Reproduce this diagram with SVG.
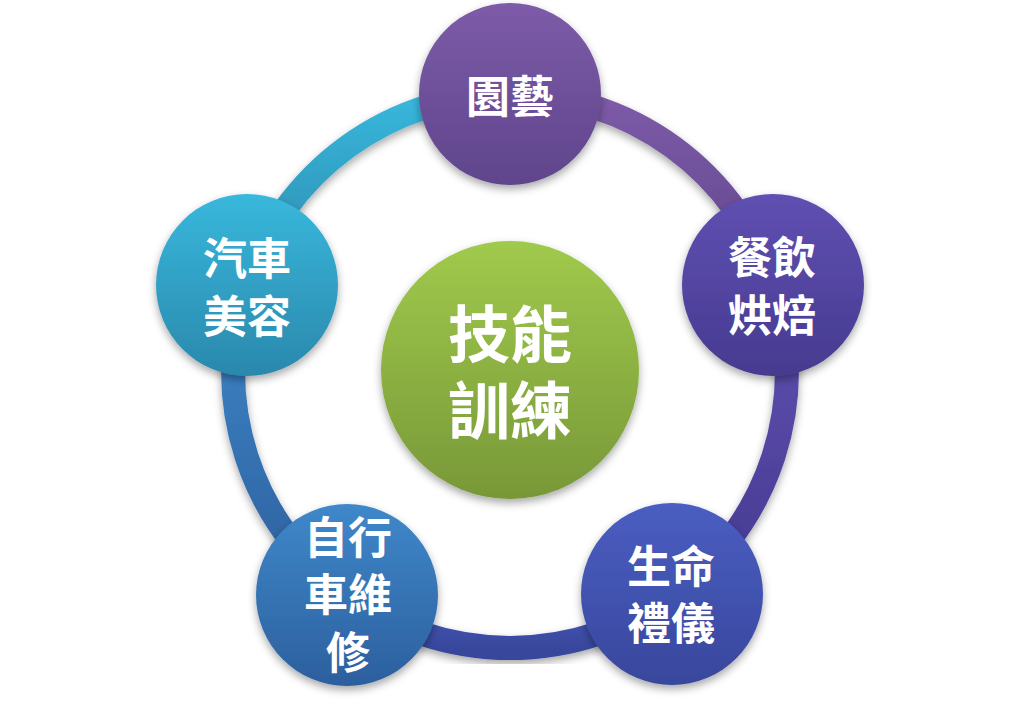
<svg xmlns="http://www.w3.org/2000/svg" width="1020" height="728" viewBox="0 0 1020 728">
<defs>
<linearGradient id="gTop" x1="0" y1="0" x2="0" y2="1"><stop offset="0" stop-color="#7d5ba8"/><stop offset="1" stop-color="#5f458c"/></linearGradient>
<linearGradient id="gRight" x1="0" y1="0" x2="0" y2="1"><stop offset="0" stop-color="#5f50b2"/><stop offset="1" stop-color="#463a90"/></linearGradient>
<linearGradient id="gBR" x1="0" y1="0" x2="0" y2="1"><stop offset="0" stop-color="#4a5ec2"/><stop offset="1" stop-color="#38479c"/></linearGradient>
<linearGradient id="gBL" x1="0" y1="0" x2="0" y2="1"><stop offset="0" stop-color="#3f88ca"/><stop offset="1" stop-color="#2c5f9e"/></linearGradient>
<linearGradient id="gL" x1="0" y1="0" x2="0" y2="1"><stop offset="0" stop-color="#38b8dc"/><stop offset="1" stop-color="#2a88ac"/></linearGradient>
<linearGradient id="gC" x1="0" y1="0" x2="0" y2="1"><stop offset="0" stop-color="#a0ca4c"/><stop offset="1" stop-color="#789838"/></linearGradient>
<filter id="sh" x="-20%" y="-20%" width="140%" height="150%">
<feDropShadow dx="0" dy="4" stdDeviation="4" flood-color="#000" flood-opacity="0.35"/>
</filter>
</defs>
<style>
.arc{fill:none;stroke-width:24;filter:url(#sh)}
.node{filter:url(#sh)}
.t{font-family:"Noto Sans CJK TC","Noto Sans CJK SC",sans-serif;font-weight:700;fill:#fff;text-anchor:middle;dominant-baseline:central;font-size:44px}
.tc{font-size:62px}
</style>
<rect width="1020" height="728" fill="#fff"/>
<g id="connectors">
<path class="arc" stroke="url(#gTop)" d="M510 94 A277 277 0 0 1 773.4 285.4"/>
<path class="arc" stroke="url(#gRight)" d="M773.4 285.4 A277 277 0 0 1 672.8 595.1"/>
<path class="arc" stroke="url(#gBR)" d="M672.8 595.1 A277 277 0 0 1 347.2 595.1"/>
<path class="arc" stroke="url(#gBL)" d="M347.2 595.1 A277 277 0 0 1 246.6 285.4"/>
<path class="arc" stroke="url(#gL)" d="M246.6 285.4 A277 277 0 0 1 510 94"/>
</g>
<g id="center">
<circle class="node" cx="510" cy="370" r="129" fill="url(#gC)"/>
<text class="t tc" x="510" y="331">技能</text>
<text class="t tc" x="510" y="407">訓練</text>
</g>
<g id="n-top">
<circle class="node" cx="510" cy="94" r="91" fill="url(#gTop)"/>
<text class="t" x="510" y="94">園藝</text>
</g>
<g id="n-right">
<circle class="node" cx="773" cy="285" r="91" fill="url(#gRight)"/>
<text class="t" x="772" y="255">餐飲</text>
<text class="t" x="772" y="313">烘焙</text>
</g>
<g id="n-bottomright">
<circle class="node" cx="672" cy="594" r="91" fill="url(#gBR)"/>
<text class="t" x="671" y="564">生命</text>
<text class="t" x="671" y="621">禮儀</text>
</g>
<g id="n-bottomleft">
<circle class="node" cx="347" cy="595" r="91" fill="url(#gBL)"/>
<text class="t" x="348" y="535">自行</text>
<text class="t" x="348" y="592">車維</text>
<text class="t" x="348" y="650">修</text>
</g>
<g id="n-left">
<circle class="node" cx="247" cy="285" r="91" fill="url(#gL)"/>
<text class="t" x="247" y="256">汽車</text>
<text class="t" x="247" y="314">美容</text>
</g>
</svg>
